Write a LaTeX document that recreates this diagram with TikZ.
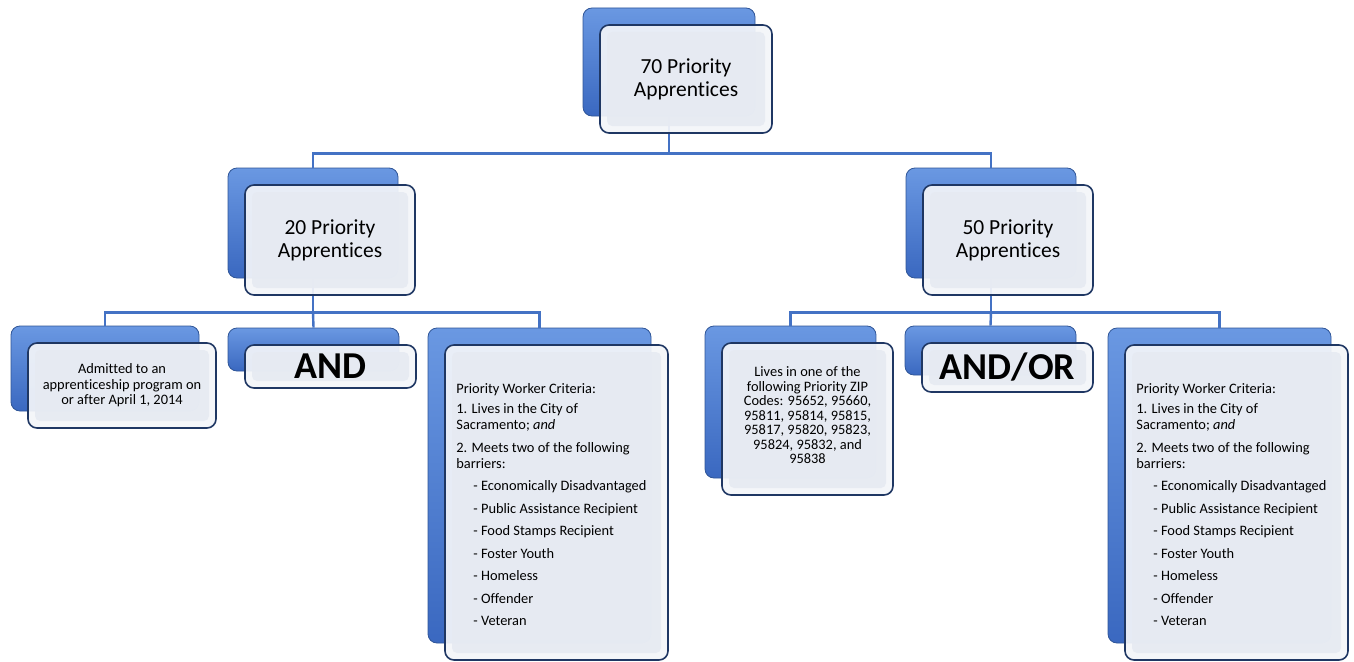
\documentclass[tikz,border=0pt]{standalone}
\usepackage{fontspec}
\setmainfont{Carlito}[Ligatures=NoCommon]
\usepackage{tikz}
\usetikzlibrary{positioning,calc}
\usepackage{xcolor}
\definecolor{backtop}{HTML}{6A98E2}
\definecolor{backbot}{HTML}{3A68C0}
\definecolor{backline}{HTML}{2F5597}
\definecolor{frontline}{HTML}{1F3763}
\definecolor{frontfill}{HTML}{F3F5F9}
\definecolor{frontinner}{HTML}{E6EAF2}
\definecolor{connblue}{HTML}{4472C4}

\newcommand{\critlist}{%
  Priority Worker Criteria:\\[3.5pt]
  1. Lives in the City of\\
  Sacramento; \emph{and}\\[7pt]
  2. Meets two of the following\\
  barriers:\\[6.5pt]
  \hspace*{17pt}- Economically Disadvantaged\\[6.5pt]
  \hspace*{17pt}- Public Assistance Recipient\\[6.5pt]
  \hspace*{17pt}- Food Stamps Recipient\\[6.5pt]
  \hspace*{17pt}- Foster Youth\\[6.5pt]
  \hspace*{17pt}- Homeless\\[6.5pt]
  \hspace*{17pt}- Offender\\[6.5pt]
  \hspace*{17pt}- Veteran}

\begin{document}
\begin{tikzpicture}[x=1pt,y=-1pt,
    backbox/.style={draw=backline, line width=0.8pt, rounded corners=9pt,
      top color=backtop, bottom color=backbot, inner sep=0pt},
    frontbox/.style={draw=frontline, line width=1.6pt, rounded corners=9pt,
      fill=frontfill, fill opacity=0.93, text opacity=1, inner sep=0pt, align=center,
      path picture={\fill[frontinner, fill opacity=0.85, rounded corners=5pt]
        ([shift={(7pt,-7pt)}]path picture bounding box.north west) rectangle
        ([shift={(-7pt,7pt)}]path picture bounding box.south east);}},
    conn/.style={draw=connblue, line width=2.4pt},
    bigtxt/.style={font=\fontsize{21.5}{23}\selectfont},
    smalltxt/.style={font=\fontsize{14.4}{15.5}\selectfont},
    boldtxt/.style={font=\fontsize{38}{40}\selectfont\bfseries}]
    \useasboundingbox (0,0) rectangle (1354,661);

    % Back boxes
    \node[backbox, minimum width=172pt, minimum height=108pt] (top-b) at (669,62) {};
    \node[backbox, minimum width=170pt, minimum height=110pt] (p20-b) at (313,223) {};
    \node[backbox, minimum width=170pt, minimum height=110pt] (p50-b) at (991,223) {};
    \node[backbox, minimum width=188pt, minimum height=85pt] (adm-b) at (105,368.5) {};
    \node[backbox, minimum width=171pt, minimum height=43pt] (and-b) at (313.5,349.5) {};
    \node[backbox, minimum width=223pt, minimum height=315pt] (critL-b) at (539.5,485.5) {};
    \node[backbox, minimum width=171pt, minimum height=152pt] (zip-b) at (790.5,402) {};
    \node[backbox, minimum width=171pt, minimum height=49pt] (andor-b) at (990.5,350.5) {};
    \node[backbox, minimum width=223pt, minimum height=315pt] (critR-b) at (1219.5,485.5) {};

    % Connectors
    \draw[conn] (top-b.south) -- ++(0,37) coordinate (split1) -| (p20-b.north);
    \draw[conn] (split1) -| (p50-b.north);
    \draw[conn] (p20-b.south) -- ++(0,34) coordinate (split2) -| (adm-b.north);
    \draw[conn] (split2) -- (and-b.north);
    \draw[conn] (split2) -| (critL-b.north);
    \draw[conn] (p50-b.south) -- ++(0,34) coordinate (split3) -| (zip-b.north);
    \draw[conn] (split3) -- (andor-b.north);
    \draw[conn] (split3) -| (critR-b.north);

    % Front boxes
    \node[frontbox, bigtxt, minimum width=172pt, minimum height=108pt] (top) at (686,79) {70 Priority\\Apprentices};
    \node[frontbox, bigtxt, minimum width=170pt, minimum height=110pt] (p20) at (330,240) {20 Priority\\Apprentices};
    \node[frontbox, bigtxt, minimum width=170pt, minimum height=110pt] (p50) at (1008,240) {50 Priority\\Apprentices};
    \node[frontbox, smalltxt, minimum width=188pt, minimum height=85pt] (adm) at (122,385.5)
        {Admitted to an\\apprenticeship program on\\or after April 1, 2014};
    \node[frontbox, boldtxt, minimum width=171pt, minimum height=43pt] (and) at (330.5,366.5) {AND};
    \node[frontbox, minimum width=223pt, minimum height=315pt] (critL) at (556.5,502.5) {};
    \node[frontbox, font=\fontsize{14.4}{14.5}\selectfont, minimum width=171pt, minimum height=152pt] (zip) at (807.5,419)
        {Lives in one of the\\following Priority ZIP\\Codes: 95652, 95660,\\95811, 95814, 95815,\\95817, 95820, 95823,\\95824, 95832, and\\95838\\[-6.5pt]};
    \node[frontbox, boldtxt, minimum width=171pt, minimum height=49pt] (andor) at (1007.5,367.5) {AND/OR};
    \node[frontbox, minimum width=223pt, minimum height=315pt] (critR) at (1236.5,502.5) {};

    % Criteria texts
    \node[font=\fontsize{14.4}{16}\selectfont, align=left, anchor=west, inner sep=0pt] (critL-t) at ([xshift=12pt,yshift=-2.5pt]critL.west) {\critlist};
    \node[font=\fontsize{14.4}{16}\selectfont, align=left, anchor=west, inner sep=0pt] (critR-t) at ([xshift=12pt,yshift=-2.5pt]critR.west) {\critlist};
\end{tikzpicture}
\end{document}
